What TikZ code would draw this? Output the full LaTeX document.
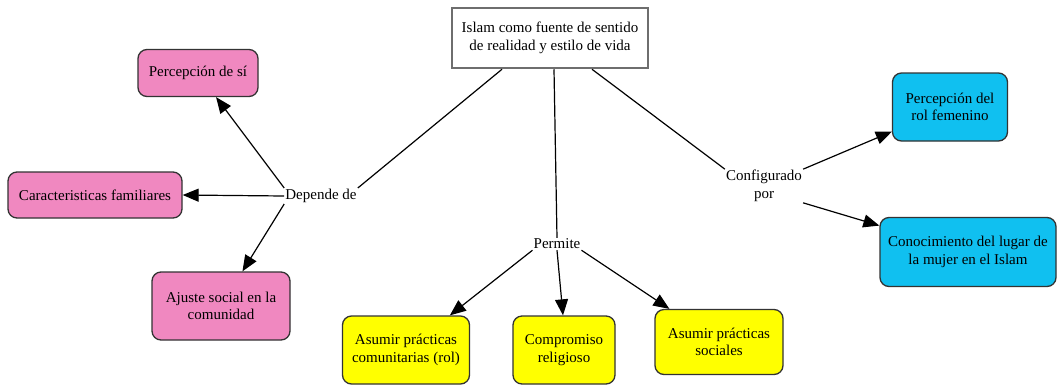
\documentclass[tikz,border=0pt]{standalone}
\usepackage{fontspec}
\setmainfont{Liberation Serif}
\usetikzlibrary{arrows.meta}
\definecolor{pinkc}{RGB}{240,136,192}
\definecolor{yellowc}{RGB}{255,255,0}
\definecolor{cyanc}{RGB}{16,192,240}
\definecolor{topborder}{RGB}{110,110,110}
\begin{document}
\begin{tikzpicture}[x=1pt,y=-1pt,
  every node/.style={font=\fontsize{15}{17.5}\selectfont, align=center},
  concept/.style={draw=black!80, line width=1.3pt, rounded corners=9pt, inner sep=0pt},
  pinkbox/.style={concept, fill=pinkc},
  yellowbox/.style={concept, fill=yellowc},
  cyanbox/.style={concept, fill=cyanc},
  linklabel/.style={inner sep=1pt, fill=white},
  conn/.style={line width=1.2pt, black},
  arr/.style={conn, -{Triangle[length=16pt,width=13pt]}}
]
\useasboundingbox (0,0) rectangle (1058,384);
\fill[white] (0,0) rectangle (1058,384);

\node[draw=topborder, line width=2.5pt, fill=white, minimum width=196pt, minimum height=60pt, inner sep=0pt] (top) at (550,38) {Islam como fuente de sentido\\de realidad y estilo de vida};

\node[pinkbox, minimum width=120pt, minimum height=47pt] (ps) at (198,73) {Percepción de sí};
\node[pinkbox, minimum width=174pt, minimum height=46pt] (cf) at (95,195) {Caracteristicas familiares};
\node[pinkbox, minimum width=138pt, minimum height=68pt] (as) at (221,306) {Ajuste social en la\\comunidad};

\node[yellowbox, minimum width=127pt, minimum height=68pt] (apc) at (406,350) {Asumir prácticas\\comunitarias (rol)};
\node[yellowbox, minimum width=102pt, minimum height=68pt] (cr) at (564,350) {Compromiso\\religioso};
\node[yellowbox, minimum width=128pt, minimum height=65pt] (aps) at (719,342) {Asumir prácticas\\sociales};

\node[cyanbox, minimum width=115pt, minimum height=68pt] (prf) at (950,107) {Percepción del\\rol femenino};
\node[cyanbox, minimum width=176pt, minimum height=69pt] (cl) at (968,252) {Conocimiento del lugar de\\la mujer en el Islam};

\node[linklabel] (dep) at (321,196) {Depende de};
\node[linklabel] (per) at (557,244) {Permite};
\node[linklabel] (conf) at (764,186) {Configurado\\por};

\draw[conn] (top.south -| 502,0) -- (dep.north east);
\draw[conn] (top.south -| 554,0) -- (per.north);
\draw[conn] (top.south -| 592,0) -- (conf.north west);

\draw[arr] (dep.north west) -- (ps);
\draw[arr] (dep.west) -- (cf.east);
\draw[arr] (dep.south west) -- (as);

\draw[arr] (per.south west) -- (apc);
\draw[arr] (per.south) -- (cr.north -| 563,0);
\draw[arr] (per.south east) -- (aps);

\draw[arr] (conf.north east) -- (prf);
\draw[arr] (conf.south east) -- (cl);
\end{tikzpicture}
\end{document}
